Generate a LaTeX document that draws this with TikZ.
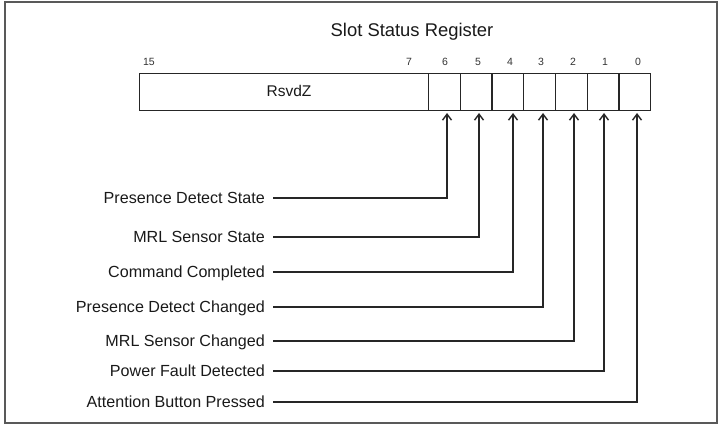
\documentclass[tikz,border=0pt]{standalone}
\usepackage{fontspec}
\setmainfont{Liberation Sans}
\usetikzlibrary{arrows.meta}
\begin{document}
\begin{tikzpicture}[x=1pt,y=-1pt,
  frame/.style={draw=black!65, line width=1.2pt},
  cell/.style={draw=black!85, line width=1.3pt, inner sep=0pt, minimum height=37pt, anchor=north west},
  bitnum/.style={font=\fontsize{10.5}{12}\selectfont, text=black!80, inner sep=0pt},
  lab/.style={font=\fontsize{16.1}{18}\selectfont, text=black!90, inner sep=0pt, anchor=east, text height=11.5pt, text depth=0pt},
  conn/.style={draw=black!85, line width=1.4pt, -{Straight Barb[length=6pt,width=9pt]}},
]
\useasboundingbox (0,0) rectangle (720,427);
\draw[frame] (5,2) rectangle (717,423);
\node[font=\fontsize{18.4}{21}\selectfont, text=black!90] (title) at (412,32) {Slot Status Register};
% register cells
\node[cell, minimum width=289pt] (rsvd) at (139,73) {};
\node[font=\fontsize{15.5}{18}\selectfont, text=black!90] (rsvdtxt) at (289,91) {RsvdZ};
\foreach \i [evaluate=\i as \xx using 428+31.71*(6-\i)] in {6,5,4,3,2,1,0} {
  \node[cell, minimum width=31.71pt] (b\i) at (\xx,73) {};
}
% bit numbers
\node[bitnum] (n15) at (149,62) {15};
\node[bitnum] (n7) at (409,62) {7};
\node[bitnum] (n6) at (445,62) {6};
\node[bitnum] (n5) at (478,62) {5};
\node[bitnum] (n4) at (510,62) {4};
\node[bitnum] (n3) at (541,62) {3};
\node[bitnum] (n2) at (573,62) {2};
\node[bitnum] (n1) at (605,62) {1};
\node[bitnum] (n0) at (638,62) {0};
% arrow targets
\coordinate (t6) at (447,113);
\coordinate (t5) at (479,113);
\coordinate (t4) at (513,113);
\coordinate (t3) at (543,113);
\coordinate (t2) at (574,113);
\coordinate (t1) at (604,113);
\coordinate (t0) at (637,113);
% labels
\node[lab] (l6) at (265,198) {Presence Detect State};
\node[lab] (l5) at (265,237) {MRL Sensor State};
\node[lab] (l4) at (265,272) {Command Completed};
\node[lab] (l3) at (265,307) {Presence Detect Changed};
\node[lab] (l2) at (265,341) {MRL Sensor Changed};
\node[lab] (l1) at (265,371) {Power Fault Detected};
\node[lab] (l0) at (265,402) {Attention Button Pressed};
% connectors
\foreach \i in {6,5,4,3,2,1,0} {
  \draw[conn] ([xshift=8pt]l\i.east) -| (t\i);
}
\end{tikzpicture}
\end{document}
